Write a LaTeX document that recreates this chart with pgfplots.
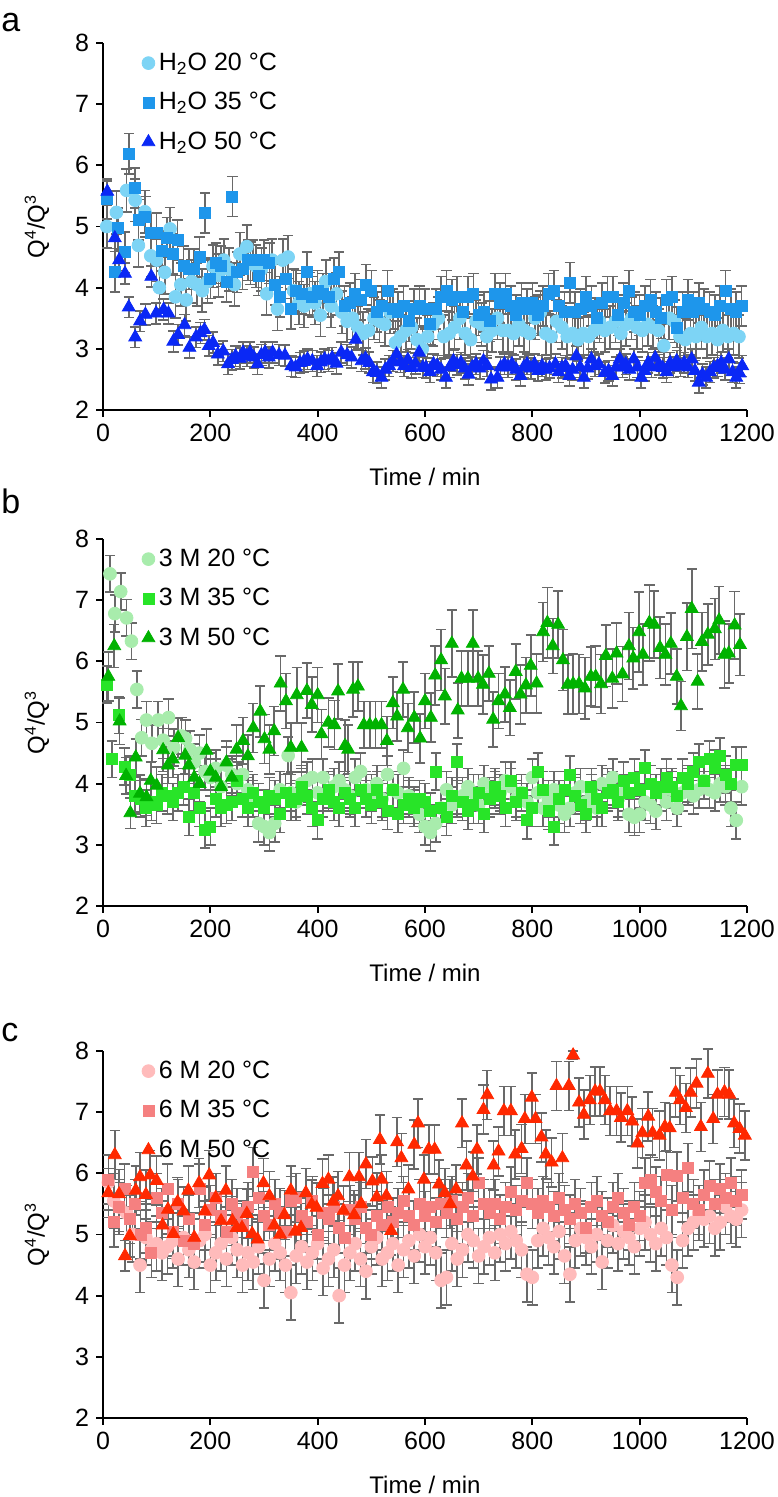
\documentclass[border=0pt]{standalone}
\usepackage{fontspec}
\setmainfont{Liberation Sans}
\usepackage{pgfplots}
\pgfplotsset{compat=1.18}
\definecolor{aA}{RGB}{125,212,245}
\definecolor{aB}{RGB}{30,150,235}
\definecolor{aC}{RGB}{10,40,245}
\definecolor{bA}{RGB}{168,236,172}
\definecolor{bB}{RGB}{40,228,40}
\definecolor{bC}{RGB}{0,178,0}
\definecolor{cA}{RGB}{255,187,187}
\definecolor{cB}{RGB}{245,128,128}
\definecolor{cC}{RGB}{255,40,0}
\definecolor{errgray}{RGB}{105,105,105}
\newcommand{\tickfont}{\fontsize{12.5}{14}\selectfont}
\newcommand{\xlabfont}{\fontsize{12}{14}\selectfont}
\newcommand{\ylabfont}{\fontsize{12}{14}\selectfont}
\newcommand{\panelfont}{\fontsize{17}{19}\selectfont}
\pgfplotsset{
 panel/.style={
  scale only axis, width=322pt, height=183.5pt,
  xmin=0, xmax=1200, ymin=2, ymax=8,
  axis x line*=bottom, axis y line*=left,
  axis line style={line width=0.9pt, black},
  xtick={0,200,400,600,800,1000,1200}, ytick={2,3,4,5,6,7,8},
  tick align=outside, major tick length=3.5pt,
  tick style={line width=0.9pt, black},
  ticklabel style={font=\tickfont},
  /pgf/number format/assume math mode=true,
  /pgf/number format/1000 sep={},
  xlabel={Time / min},
  ylabel={Q\textsuperscript{4}/Q\textsuperscript{3}},
  every axis x label/.style={at={(axis description cs:0.5,0)}, yshift=-33.5pt, anchor=center, font=\xlabfont},
  every axis y label/.style={at={(axis description cs:0,0.5)}, xshift=-33pt, rotate=90, anchor=center, font=\ylabfont},
  legend style={draw=none, fill=none, at={(rel axis cs:0.06,0.985)}, anchor=north west, font=\tickfont, row sep=5.5pt, inner sep=0pt},
  legend cell align=left,
  legend image code/.code={\draw[##1] plot coordinates {(2pt,0pt)};},
  clip=false,
 },
 ser/.style n args={3}{only marks, mark=#1, mark size=#2, color=#3, mark options={draw=none, fill=#3}},
 errfix/.style={error bars/.cd, y dir=both, y fixed=#1,
   error bar style={errgray, line width=0.8pt},
   error mark options={rotate=90, errgray, line width=0.8pt, mark size=2.6pt}},
 errexp/.style={error bars/.cd, y dir=both, y explicit,
   error bar style={errgray, line width=0.8pt},
   error mark options={rotate=90, errgray, line width=0.8pt, mark size=2.6pt}},
}
\begin{document}
\begin{tikzpicture}
\path[use as bounding box] (0,0) rectangle (388.5pt,748.5pt);
\node[anchor=base west, font=\panelfont, inner sep=0pt] at (0.5pt,732.5pt) {a};
\node[anchor=base west, font=\panelfont, inner sep=0pt] at (0.5pt,491.5pt) {b};
\node[anchor=base west, font=\panelfont, inner sep=0pt] at (0.5pt,227.5pt) {c};
% ---------------- panel a
\begin{axis}[panel, at={(51.5pt,543.5pt)}, anchor=south west]
\addplot[ser={*}{3.2pt}{aA}, errfix=0.35] table {
7 5.00
25 5.23
44 5.59
60 5.43
66 4.69
78 5.24
89 4.52
100 4.45
105 4.00
115 4.25
125 4.96
135 3.85
145 4.05
155 3.80
165 4.10
175 4.05
185 3.95
195 4.10
205 4.35
215 4.20
225 4.45
235 4.30
245 4.05
255 4.55
268 4.67
275 4.40
285 4.35
295 4.30
305 3.90
315 4.45
325 3.65
335 4.45
345 4.50
355 3.95
365 3.75
375 3.70
385 3.90
395 3.75
405 3.55
415 4.10
425 3.70
435 3.90
445 3.60
455 3.45
465 3.50
475 3.35
485 3.25
495 3.30
505 3.50
515 3.45
525 3.40
535 3.60
545 3.10
555 3.20
565 3.30
575 3.35
585 3.15
595 3.00
605 3.20
615 3.40
625 3.50
635 3.20
645 3.25
655 3.35
665 3.50
675 3.25
685 3.15
695 3.45
705 3.40
715 3.20
725 3.30
735 3.50
745 3.30
755 3.30
765 3.25
775 3.40
785 3.30
795 3.25
805 3.50
815 3.60
825 3.25
835 3.20
845 3.45
855 3.35
865 3.20
875 3.25
885 3.15
895 3.25
905 3.20
915 3.30
925 3.45
935 3.30
945 3.35
955 3.45
965 3.25
975 3.40
985 3.50
995 3.35
1005 3.30
1015 3.40
1025 3.35
1035 3.30
1045 3.05
1055 3.50
1065 3.45
1075 3.20
1085 3.15
1095 3.25
1105 3.20
1115 3.35
1125 3.20
1135 3.25
1145 3.15
1155 3.30
1165 3.20
1175 3.25
1185 3.20
};
\addlegendentry{H\textsubscript{2}O 20 °C}
\addplot[ser={square*}{2.75pt}{aB}, errfix=0.33] table {
8 5.45
22 4.26
28 4.97
41 4.58
49 6.19
60 5.63
66 5.11
79 5.16
89 4.89
100 4.89
110 4.60
119 4.82
130 4.55
139 4.78
150 4.35
160 4.30
170 4.30
180 4.50
190 5.22
200 4.15
210 4.40
220 4.35
230 4.10
241 5.49
250 4.25
260 4.30
270 4.45
280 4.45
290 4.20
300 4.45
310 4.40
320 4.05
330 3.85
340 4.15
350 3.65
360 3.95
370 3.90
380 4.25
390 3.85
400 3.95
410 3.90
420 3.85
430 4.15
440 4.25
450 3.70
460 3.75
470 3.90
480 3.80
490 4.05
500 3.95
510 3.60
520 3.70
530 3.95
540 3.65
550 3.60
560 3.70
570 3.45
580 3.65
590 3.70
600 3.65
610 3.40
620 3.65
630 3.85
640 3.95
650 3.80
660 3.85
670 3.60
680 3.85
690 3.90
700 3.55
710 3.60
720 3.45
730 3.90
740 3.75
750 3.90
760 3.70
770 3.55
780 3.75
790 3.65
800 3.75
810 3.55
820 3.70
830 3.90
840 3.95
850 3.70
860 3.60
870 4.08
880 3.60
890 3.65
900 3.85
910 3.70
920 3.50
930 3.75
940 3.85
950 3.85
960 3.55
970 3.75
980 3.95
990 3.60
1000 3.55
1010 3.70
1020 3.80
1030 3.60
1040 3.50
1050 3.80
1060 3.85
1070 3.35
1080 3.60
1090 3.80
1100 3.60
1110 3.75
1120 3.65
1130 3.60
1140 3.55
1150 3.70
1160 3.95
1170 3.65
1180 3.60
1190 3.70
};
\addlegendentry{H\textsubscript{2}O 35 °C}
\addplot[ser={triangle*}{3.7pt}{aC}, errfix=0.17] table {
8 5.57
22 4.81
30 4.45
41 4.23
48 3.68
60 3.19
69 3.45
79 3.56
90 4.18
99 3.58
113 3.64
122 3.58
131 3.12
140 3.23
152 3.39
161 3.02
173 3.19
182 3.26
189 3.31
197 3.05
205 3.10
214 2.91
224 2.96
233 2.75
240 2.82
247 2.88
255 2.84
261 2.94
268 2.88
274 2.94
281 2.86
288 2.75
295 2.90
302 2.94
309 2.86
316 2.94
328 2.90
339 2.89
351 2.72
359 2.70
367 2.77
374 2.79
381 2.83
390 2.80
399 2.72
406 2.78
413 2.83
420 2.80
427 2.85
435 2.76
444 2.94
455 2.90
463 2.86
471 3.15
482 2.80
489 2.84
496 2.77
503 2.62
510 2.61
519 2.53
526 2.66
533 2.72
540 2.80
547 2.91
554 2.78
561 2.72
568 2.82
575 2.69
582 2.76
589 2.94
596 2.70
602 2.69
609 2.62
616 2.75
623 2.72
630 2.66
639 2.53
646 2.70
653 2.80
660 2.74
667 2.77
674 2.68
681 2.58
688 2.70
695 2.75
702 2.68
709 2.80
716 2.72
723 2.50
735 2.53
741 2.70
748 2.75
755 2.70
762 2.75
770 2.66
778 2.56
784 2.70
790 2.75
797 2.68
804 2.75
811 2.64
818 2.72
825 2.66
832 2.69
843 2.75
849 2.62
855 2.69
862 2.72
869 2.56
875 2.66
882 2.88
889 2.70
896 2.53
903 2.68
910 2.83
917 2.72
924 2.75
935 2.61
942 2.64
949 2.56
956 2.70
963 2.83
968 2.70
974 2.75
981 2.66
989 2.83
996 2.70
1003 2.53
1009 2.64
1016 2.77
1022 2.70
1029 2.85
1036 2.74
1043 2.69
1050 2.62
1057 2.77
1063 2.70
1069 2.80
1076 2.72
1083 2.77
1090 2.70
1097 2.83
1103 2.64
1110 2.45
1117 2.58
1124 2.53
1131 2.62
1138 2.69
1145 2.72
1152 2.77
1159 2.66
1166 2.83
1173 2.62
1180 2.53
1186 2.60
1191 2.72
};
\addlegendentry{H\textsubscript{2}O 50 °C}
\end{axis}
% ---------------- panel b
\begin{axis}[panel, at={(51.5pt,295.5pt)}, anchor=south west]
\addplot[ser={*}{3.2pt}{bA}, errfix=0.3] table {
13 7.43
22 6.78
33 7.14
44 6.71
53 6.33
63 5.54
72 4.75
81 5.04
91 4.66
103 5.04
112 4.71
122 5.08
132 4.59
146 4.78
154 4.74
162 4.56
170 4.35
180 4.50
190 4.20
200 4.10
210 4.25
220 3.95
230 4.30
240 4.15
250 4.00
260 4.15
270 3.90
280 3.75
290 3.35
300 3.30
310 3.20
320 3.35
330 3.90
345 4.46
350 3.85
360 3.70
370 4.00
380 4.05
390 4.10
400 3.85
410 4.10
420 3.85
430 3.95
440 4.05
450 3.90
460 3.80
470 4.10
480 4.20
490 3.90
500 3.85
510 4.00
520 3.75
530 4.15
540 3.90
550 3.85
560 4.25
570 3.80
580 3.65
590 3.50
600 3.30
610 3.20
620 3.35
630 3.60
640 3.90
650 3.65
660 3.75
670 3.80
680 3.95
690 3.85
700 3.65
710 4.00
720 3.80
730 3.90
740 3.85
750 4.05
760 3.95
770 3.75
780 3.85
790 3.70
800 4.10
810 3.85
820 3.60
830 3.75
840 3.90
850 3.65
860 3.50
870 3.60
880 3.85
890 3.95
900 3.70
910 3.85
920 3.60
930 4.00
940 3.95
950 4.10
960 3.75
970 3.85
980 3.50
990 3.45
1000 3.50
1010 3.70
1020 3.65
1030 3.55
1040 3.85
1050 3.70
1060 3.90
1070 3.60
1080 3.85
1090 3.95
1100 3.80
1110 3.90
1120 4.05
1130 3.90
1140 3.85
1150 4.00
1160 3.95
1170 3.60
1180 3.40
1190 3.95
};
\addlegendentry{3 M 20 °C}
\addplot[ser={square*}{2.75pt}{bB}, errfix=0.3] table {
8 5.62
17 4.40
30 5.12
40 4.28
50 4.15
60 3.80
70 3.75
80 3.60
90 3.70
100 3.65
110 3.85
120 3.80
130 3.70
140 3.85
150 3.95
160 3.45
170 3.85
180 3.60
190 3.25
200 3.30
210 3.75
220 3.60
230 3.65
240 3.70
250 4.05
260 3.75
270 3.60
280 3.85
290 3.70
300 3.60
310 3.80
320 3.75
330 3.50
340 3.85
350 3.70
360 3.75
370 3.95
380 3.80
390 3.60
400 3.40
410 3.75
420 3.90
430 3.70
440 3.60
450 3.85
460 3.75
470 3.60
480 3.90
490 3.75
500 3.65
510 3.90
520 3.70
530 3.55
540 3.90
550 3.50
560 3.65
570 3.75
580 3.60
590 3.75
600 3.70
610 3.55
620 4.20
630 3.60
640 3.45
650 3.80
660 4.35
670 3.70
680 3.55
690 3.65
700 3.85
710 3.50
720 3.75
730 3.95
740 3.80
750 3.60
760 4.05
770 3.70
780 3.85
790 3.40
800 3.60
810 4.20
820 3.90
830 3.55
840 3.30
850 3.75
860 3.90
870 4.15
880 3.80
890 3.65
900 3.50
910 3.95
920 3.75
930 3.60
940 3.85
950 3.90
960 3.70
970 4.05
980 3.85
990 4.10
1000 3.90
1010 4.25
1020 4.00
1030 3.85
1040 3.95
1050 4.10
1060 3.95
1070 3.80
1080 4.10
1090 4.00
1100 4.20
1110 4.35
1120 4.05
1130 4.40
1140 4.25
1150 4.45
1160 4.15
1170 4.00
1180 4.30
1190 4.30
};
\addlegendentry{3 M 35 °C}
\addplot[ser={triangle*}{3.7pt}{bC}, errexp] table[y error index=2] {
10 5.75 .40
21 6.25 .35
31 5.02 .38
43 4.13 .30
51 3.52 .25
61 4.43 .30
69 3.84 .30
81 3.78 .30
89 4.05 .30
100 3.97 .30
112 4.55 .35
121 4.30 .30
130 4.40 .30
140 4.75 .32
153 4.46 .30
160 4.30 .30
170 4.10 .30
180 4.00 .30
193 4.54 .35
200 4.20 .30
210 4.10 .30
220 3.95 .30
230 4.35 .35
240 4.10 .30
249 4.56 .40
261 4.70 .38
270 4.45 .35
280 4.91 .40
293 5.18 .42
301 4.73 .40
310 4.56 .40
319 4.86 .40
331 5.64 .45
341 5.35 .45
350 4.59 .40
361 5.45 .45
370 4.59 .40
380 5.52 .45
389 5.29 .45
400 5.45 .45
407 4.81 .40
420 5.00 .40
431 4.96 .40
438 5.51 .45
451 4.62 .42
457 4.56 .40
466 5.54 .45
475 5.59 .40
486 4.96 .38
497 4.96 .38
508 4.96 .38
519 4.96 .38
529 4.70 .40
540 5.32 .42
548 5.10 .40
559 5.54 .45
568 4.91 .40
580 5.08 .42
591 4.74 .40
600 5.35 .45
611 5.08 .40
619 5.77 .48
630 6.02 .50
637 5.43 .45
650 6.29 .55
661 5.20 .45
668 5.72 .45
680 5.72 .45
689 6.29 .55
699 5.72 .45
708 5.62 .48
719 5.80 .45
727 5.05 .45
737 5.35 .45
749 5.46 .45
758 5.24 .45
769 5.83 .45
778 5.46 .48
788 5.61 .45
797 5.93 .50
808 5.64 .48
820 6.48 .48
828 6.63 .58
838 6.25 .45
848 6.60 .55
857 6.02 .50
866 5.62 .48
876 5.63 .50
887 5.63 .48
898 5.56 .50
909 5.75 .48
918 5.75 .50
928 5.63 .48
937 6.09 .50
949 5.72 .48
957 6.13 .50
968 5.79 .45
980 6.25 .55
988 6.05 .50
999 6.48 .65
1006 6.11 .50
1018 6.63 .62
1027 6.60 .55
1038 6.22 .50
1048 6.11 .50
1058 6.29 .50
1069 5.75 .45
1077 5.27 .40
1088 6.40 .55
1097 6.86 .65
1108 5.67 .45
1116 6.32 .48
1127 6.44 .50
1140 6.53 .50
1148 6.67 .55
1158 6.11 .55
1166 6.13 .48
1177 6.59 .55
1187 6.27 .50
};
\addlegendentry{3 M 50 °C}
\end{axis}
% ---------------- panel c
\begin{axis}[panel, at={(51.5pt,39.5pt)}, anchor=south west]
\addplot[ser={*}{3.2pt}{cA}, errfix=0.45] table {
10 5.85
20 5.55
30 5.45
44 5.35
55 5.00
69 4.50
80 4.95
90 4.75
100 4.85
110 4.70
120 4.80
130 4.90
140 4.60
150 4.95
160 4.75
170 4.55
180 4.90
190 5.00
200 4.50
210 4.70
220 4.85
230 4.60
240 4.95
250 4.75
260 4.50
270 4.70
280 4.55
290 4.80
300 4.25
310 4.60
320 4.85
330 4.70
340 4.50
350 4.05
360 4.65
370 4.80
380 4.55
390 4.70
400 4.85
410 4.45
420 4.60
430 4.75
440 4.00
450 4.50
460 4.70
470 4.85
480 4.60
490 4.40
500 4.80
510 4.95
520 4.60
530 4.70
540 4.85
550 4.50
560 4.75
570 4.90
580 4.65
590 5.00
600 4.80
610 4.95
620 4.70
630 4.25
640 4.30
650 4.85
660 4.60
670 4.75
680 5.00
690 4.90
700 4.65
710 4.80
720 4.95
730 4.70
740 5.00
750 4.85
760 5.05
770 4.90
780 4.75
790 4.35
800 4.30
810 4.90
820 5.10
830 4.95
840 4.80
850 5.05
860 4.65
870 4.35
880 4.90
890 5.10
900 4.95
910 4.80
920 5.00
930 4.55
940 4.90
950 5.15
960 4.85
970 5.05
980 4.95
990 4.80
1000 5.10
1010 5.20
1020 5.00
1030 4.85
1040 5.10
1050 4.95
1060 4.50
1070 4.30
1080 4.90
1090 5.10
1100 5.20
1110 5.35
1120 5.25
1130 5.30
1140 5.10
1150 5.20
1160 5.45
1170 5.30
1180 5.25
1190 5.40
};
\addlegendentry{6 M 20 °C}
\addplot[ser={square*}{2.75pt}{cB}, errfix=0.4] table {
10 5.90
20 5.20
30 5.45
40 5.75
50 5.25
60 5.50
70 5.00
80 5.10
90 4.70
100 5.60
110 5.35
120 5.75
130 5.05
140 5.50
150 4.90
160 5.25
170 4.85
180 5.75
190 5.15
200 5.40
210 5.60
220 5.30
230 5.05
240 5.50
250 5.35
260 5.15
270 5.45
280 6.02
290 5.60
300 5.30
310 5.15
320 5.50
330 5.35
340 5.05
350 5.55
360 5.60
370 5.30
380 5.20
390 5.55
400 5.00
410 5.35
420 5.25
430 5.45
440 5.10
450 4.95
460 5.40
470 5.25
480 5.45
490 5.10
500 5.00
510 5.30
520 5.15
530 5.45
540 5.20
550 5.35
560 5.55
570 5.30
580 5.15
590 5.50
600 5.30
610 5.45
620 5.20
630 5.50
640 5.35
650 5.55
660 5.25
670 5.45
680 5.60
690 5.30
700 5.85
710 5.50
720 5.35
730 5.50
740 5.25
750 5.45
760 5.70
770 5.40
780 5.55
790 5.85
800 5.50
810 5.35
820 5.55
830 5.45
840 5.30
850 5.60
860 5.40
870 5.25
880 5.50
890 5.35
900 5.10
910 5.45
920 5.55
930 5.30
940 5.20
950 5.45
960 5.60
970 5.35
980 5.15
990 5.45
1000 5.30
1010 5.85
1020 5.90
1030 5.70
1040 5.55
1050 5.97
1060 5.40
1070 5.95
1080 5.60
1090 6.09
1100 5.50
1110 5.40
1120 5.65
1130 5.80
1140 5.50
1150 5.75
1160 5.60
1170 5.85
1180 5.55
1190 5.65
};
\addlegendentry{6 M 35 °C}
\addplot[ser={triangle*}{3.7pt}{cC}, errexp] table[y error index=2] {
10 5.68 .40
22 6.30 .40
30 5.66 .40
41 4.65 .25
50 4.98 .35
61 5.72 .40
69 5.94 .40
80 5.65 .40
88 5.97 .40
100 5.88 .40
111 5.15 .40
121 5.41 .40
131 5.01 .40
139 5.53 .40
150 5.38 .40
159 5.72 .40
170 4.95 .40
179 5.84 .40
190 5.38 .40
198 5.97 .40
210 5.60 .40
220 5.22 .40
229 5.72 .40
241 5.22 .40
249 5.11 .40
259 5.11 .40
268 5.34 .40
278 5.01 .40
288 4.92 .40
299 5.84 .40
310 5.63 .40
319 5.15 .40
330 5.00 .40
338 5.32 .40
350 5.72 .40
358 5.05 .40
369 5.11 .40
378 5.68 .40
389 5.49 .40
398 5.44 .40
409 5.83 .40
420 5.90 .40
429 5.54 .40
438 5.63 .40
448 5.39 .40
459 5.94 .40
468 5.32 .40
477 5.94 .40
481 5.50 .40
490 6.15 .40
502 5.87 .40
510 5.61 .40
516 6.55 .40
519 5.90 .40
528 5.63 .40
537 5.06 .40
548 6.51 .40
556 6.25 .40
569 5.74 .40
580 6.47 .40
587 6.82 .40
598 5.90 .40
607 6.39 .40
618 6.39 .40
626 5.82 .40
637 5.68 .40
647 5.50 .40
658 5.74 .40
669 6.82 .40
677 6.13 .40
689 5.95 .40
697 6.39 .40
709 7.04 .40
716 7.28 .40
728 6.13 .40
737 6.36 .40
747 7.02 .40
760 7.02 .40
768 6.31 .40
780 6.40 .40
786 6.89 .40
799 7.24 .40
806 6.89 .40
817 6.59 .40
825 6.31 .40
836 6.18 .40
845 7.43 .40
856 6.25 .40
868 7.43 .40
876 7.93 .07
887 7.16 .40
896 6.96 .40
907 7.20 .40
917 7.34 .40
926 7.34 .40
935 7.20 .40
945 7.02 .40
957 7.02 .40
965 6.91 .40
977 7.02 .40
986 6.85 .40
996 6.49 .40
1005 6.66 .40
1016 6.93 .40
1024 6.66 .40
1037 6.62 .40
1047 6.76 .40
1056 6.74 .40
1067 7.32 .40
1075 7.20 .40
1086 7.07 .40
1095 7.32 .40
1106 7.47 .40
1114 6.76 .40
1127 7.63 .40
1137 6.89 .40
1145 7.29 .40
1158 7.33 .40
1167 7.29 .40
1176 6.82 .40
1186 6.73 .40
1196 6.62 .40
};
\addlegendentry{6 M 50 °C}
\end{axis}
\end{tikzpicture}
\end{document}
